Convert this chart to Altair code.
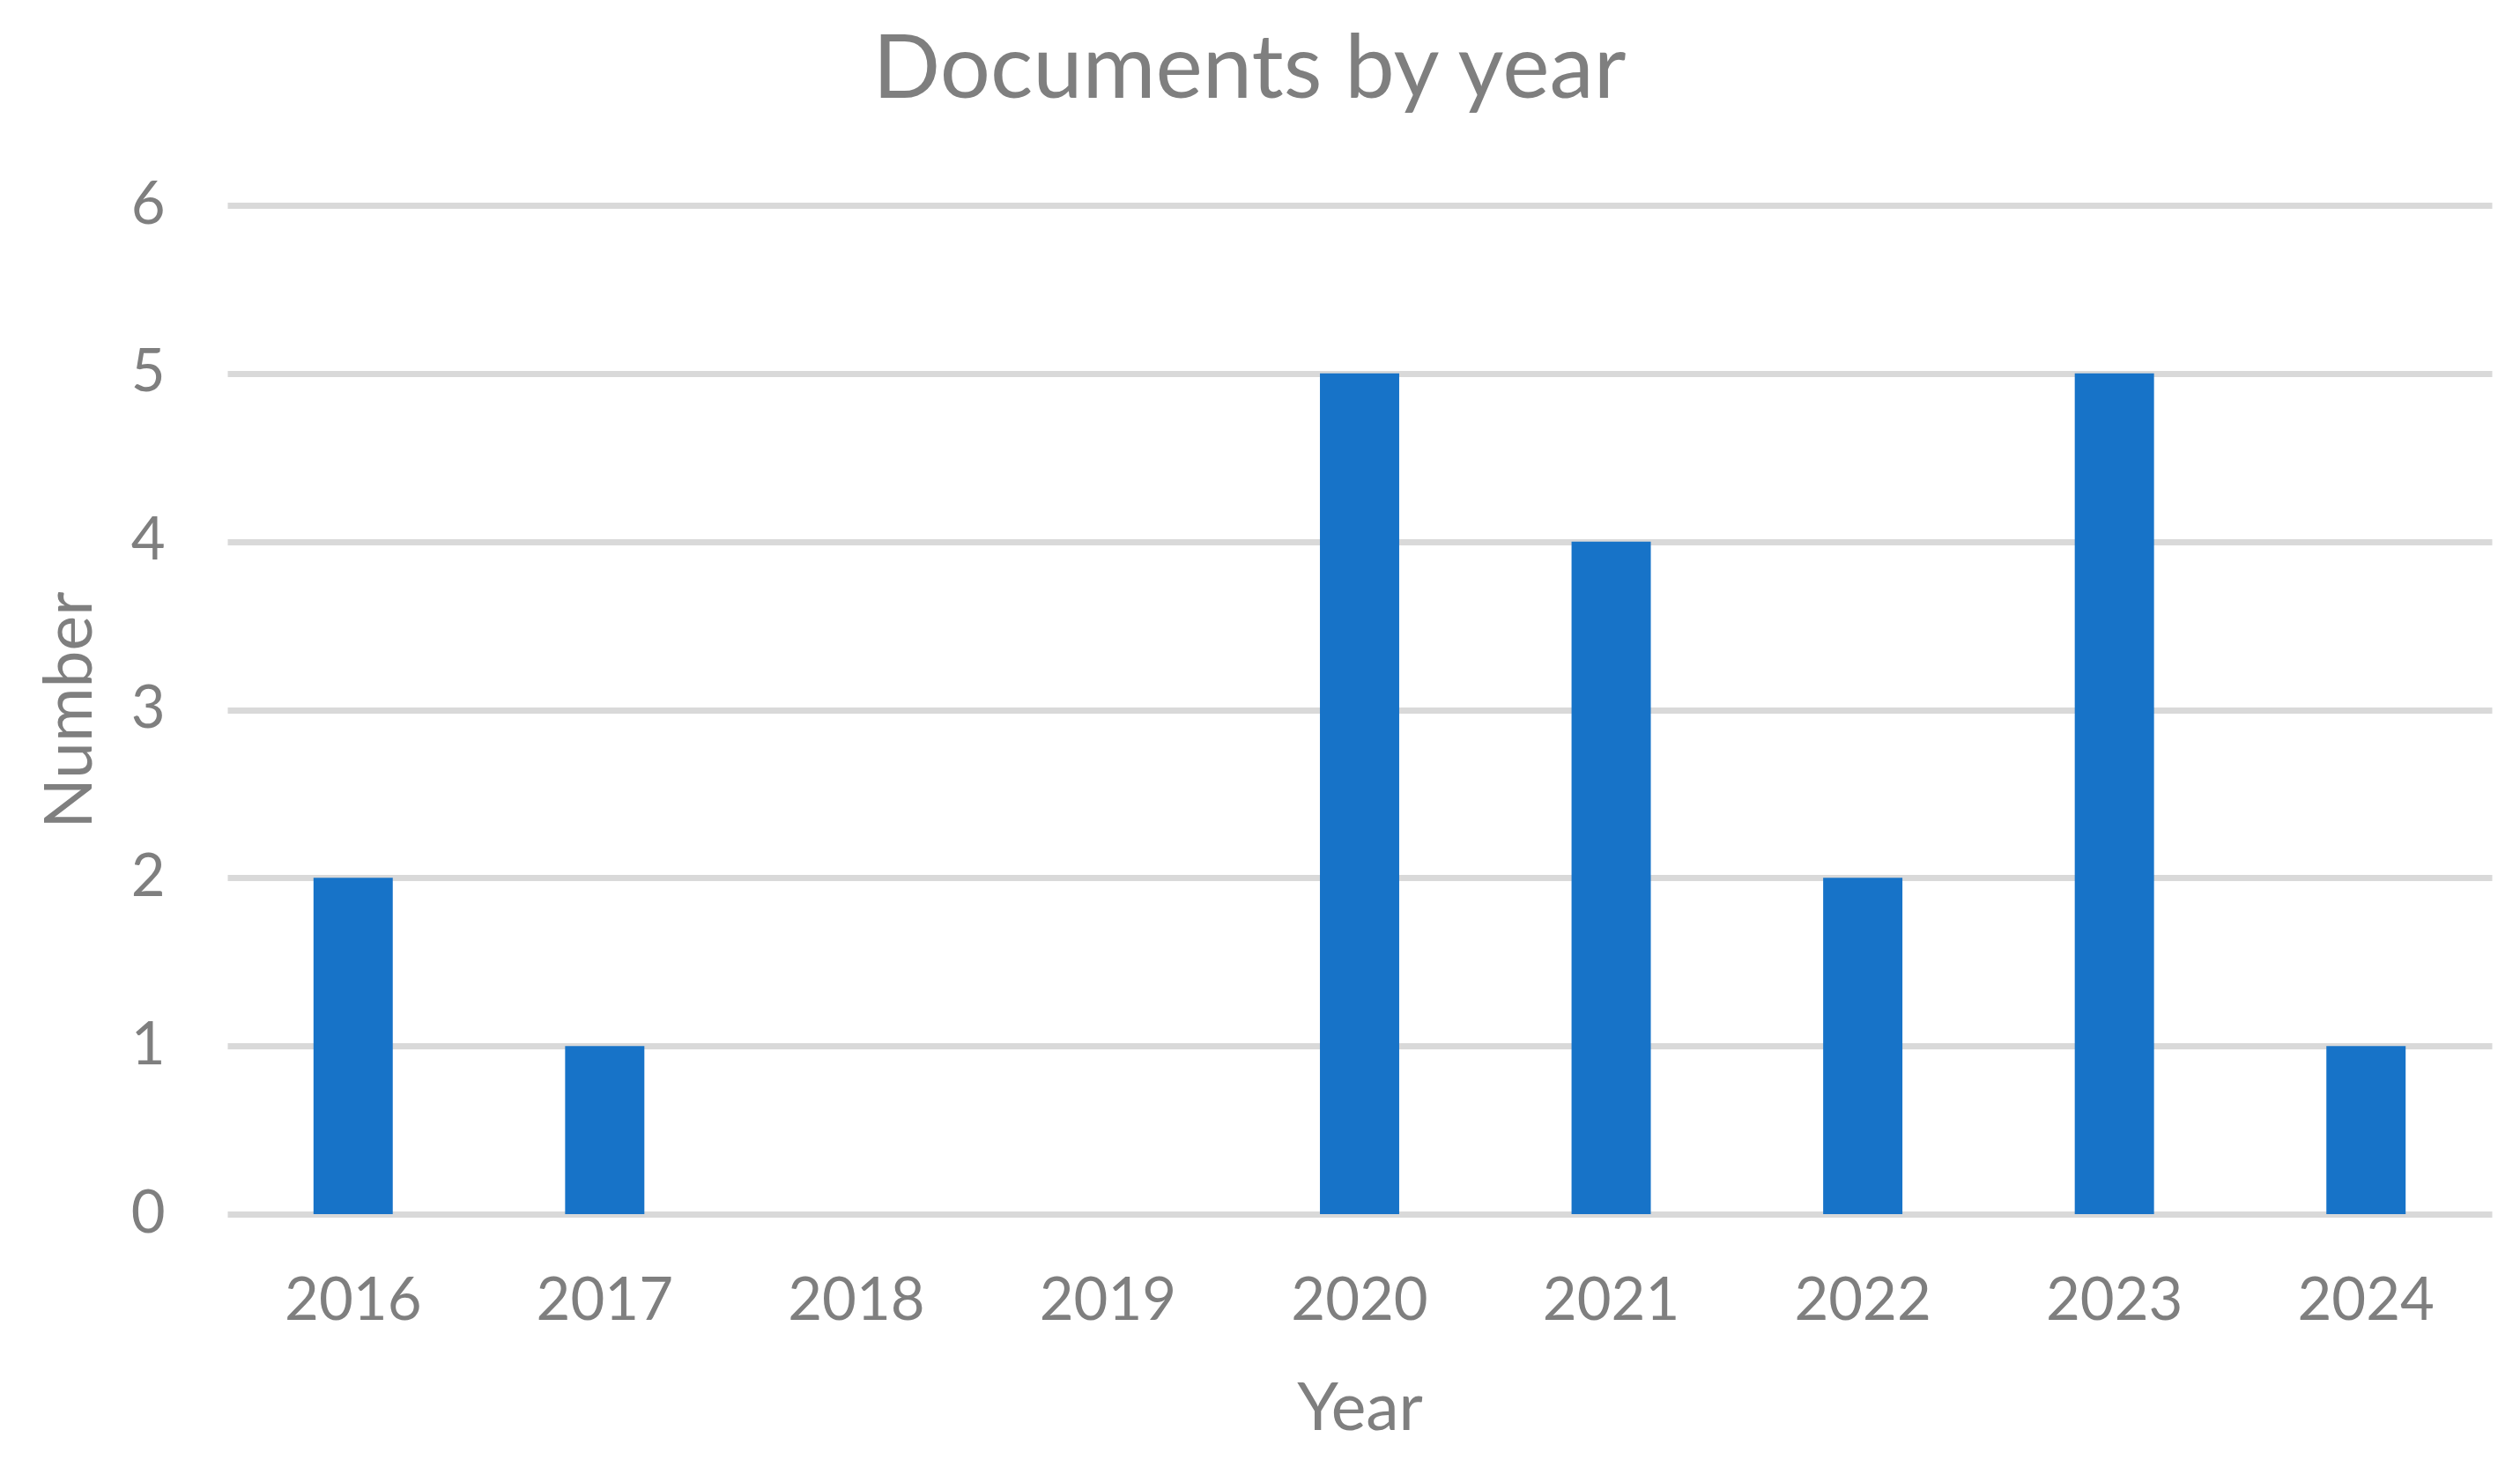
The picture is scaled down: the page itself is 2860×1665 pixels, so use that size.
import altair as alt
import pandas as pd

years = ["2016", "2017", "2018", "2019", "2020", "2021", "2022", "2023", "2024"]
counts = [2, 1, 0, 0, 5, 4, 2, 5, 1]
y_ticks = [0, 1, 2, 3, 4, 5, 6]

df = pd.DataFrame({"Year": years, "Number": counts})

FONT = "Lato"
TEXT = "#7F7F7F"
GRID = "#D9D9D9"
BAR = "#1773C8"

W, H = 2570, 1145

chart = (
    alt.Chart(df)
    .mark_bar(color=BAR)
    .encode(
        x=alt.X(
            "Year:N",
            sort=years,
            scale=alt.Scale(paddingInner=0.685, paddingOuter=0.3425),
            axis=alt.Axis(
                title="Year",
                labelAngle=0,
                labelFont=FONT,
                labelFontSize=67,
                labelColor=TEXT,
                labelBaseline="alphabetic",
                labelPadding=119,
                ticks=False,
                tickSize=0,
                domain=False,
                grid=False,
                titleFont=FONT,
                titleFontSize=75,
                titleFontWeight="normal",
                titleColor=TEXT,
                titleBaseline="alphabetic",
                titleAlign="center",
                titleX=W / 2,
                titleY=244,
            ),
        ),
        y=alt.Y(
            "Number:Q",
            scale=alt.Scale(domain=[0, 6], nice=False),
            axis=alt.Axis(
                title="Number",
                values=y_ticks,
                format="d",
                labelFont=FONT,
                labelFontSize=67,
                labelColor=TEXT,
                labelPadding=71,
                ticks=False,
                tickSize=0,
                domain=False,
                grid=True,
                gridColor=GRID,
                gridWidth=7,
                titleFont=FONT,
                titleFontSize=75,
                titleFontWeight="normal",
                titleColor=TEXT,
                titleAngle=-90,
                titleBaseline="alphabetic",
                titleAlign="center",
                titleX=-155,
                titleY=H / 2,
            ),
        ),
    )
    .properties(
        width=W,
        height=H,
        autosize=alt.AutoSizeParams(type="none"),
        padding={"left": 250, "top": 225, "right": 20, "bottom": 270},
        title=alt.TitleParams(
            "Documents by year",
            font=FONT,
            fontSize=101,
            fontWeight="normal",
            color=TEXT,
            anchor="middle",
            dx=-125,
            dy=108,
            offset=95,
            baseline="alphabetic",
        ),
    )
    .configure_view(stroke=None)
)

chart.save("out.html", embed_options={"renderer": "svg", "actions": False})
